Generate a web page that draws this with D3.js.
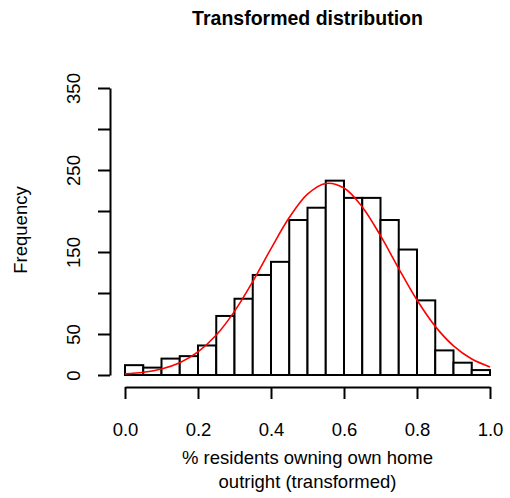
<!DOCTYPE html>
<html>
<head>
<meta charset="utf-8">
<script src="https://cdn.jsdelivr.net/npm/d3@7"></script>
<style>
  body { margin: 0; background: #fff; }
  text { font-family: "Liberation Sans", Arial, Helvetica, sans-serif; fill: #000; }
</style>
</head>
<body>
<svg id="chart" width="510" height="498"></svg>
<script>
// Histogram bins (bin start values, width 0.05) and counts
const binStarts = [0.00,0.05,0.10,0.15,0.20,0.25,0.30,0.35,0.40,0.45,0.50,0.55,0.60,0.65,0.70,0.75,0.80,0.85,0.90,0.95];
const binWidth = 0.05;
const counts = [12,9,20,23,36,72,93,122,138,189,204,237,216,216,189,153,91,30,15,6];
// Fitted normal curve, read at 0.05 steps
const curveX = [0.00,0.05,0.10,0.15,0.20,0.25,0.30,0.35,0.40,0.45,0.50,0.55,0.60,0.65,0.70,0.75,0.80,0.85,0.90,0.95,1.00];
const curveY = [1.4,3.4,7.4,15.0,28.2,48.7,77.6,113.9,154.1,192.0,220.6,233.6,228.0,205.0,169.9,129.8,91.4,59.3,35.5,19.5,9.9];
// Tick values
const xTicks = [0.0,0.2,0.4,0.6,0.8,1.0];
const yTicks = [0,50,100,150,200,250,300,350];
const yTickLabels = ["0","50","","150","","250","","350"];
const titleText = "Transformed distribution";
const xLabelLines = ["% residents owning own home","outright (transformed)"];
const yLabelText = "Frequency";

const svg = d3.select("#chart");
svg.append("rect").attr("width",510).attr("height",498).attr("fill","#fff");

const x = d3.scaleLinear().domain([0,1]).range([125,490]);
const y = d3.scaleLinear().domain([0,350]).range([375,88]);

// Bars
svg.append("g").selectAll("rect").data(binStarts).join("rect")
  .attr("x", d => x(d))
  .attr("y", (d,i) => y(counts[i]))
  .attr("width", d => x(d + binWidth) - x(d))
  .attr("height", (d,i) => y(0) - y(counts[i]))
  .attr("fill","#fff").attr("stroke","#000").attr("stroke-width",2);

// Curve
const line = d3.line().x((d,i)=>x(curveX[i])).y(d=>y(d)).curve(d3.curveCatmullRom);
svg.append("path").datum(curveY).attr("d", line)
  .attr("fill","none").attr("stroke","#ff0000").attr("stroke-width",1.6);

// X axis
const xAxis = svg.append("g").attr("transform","translate(0,387)")
  .call(d3.axisBottom(x).tickValues(xTicks).tickFormat(d3.format(".1f")).tickSize(12).tickSizeOuter(0));
xAxis.select(".domain").attr("stroke-width",2);
xAxis.selectAll(".tick line").attr("stroke-width",2);
xAxis.selectAll(".tick text").attr("y",48.5).attr("dy",null)
  .style("font-size","18.5px");

// Y axis
const yAxis = svg.append("g").attr("transform","translate(110,0)")
  .call(d3.axisLeft(y).tickValues(yTicks).tickFormat((d,i)=>yTickLabels[i]).tickSize(12).tickSizeOuter(0));
yAxis.select(".domain").attr("stroke-width",2);
yAxis.selectAll(".tick line").attr("stroke-width",2);
yAxis.selectAll(".tick text")
  .attr("transform","rotate(-90)")
  .attr("x",0).attr("y",-30).attr("dy",null)
  .attr("text-anchor","middle")
  .style("font-size","18.5px");
svg.selectAll(".tick text").attr("font-family",null);

// Title
svg.append("text").attr("x",307.5).attr("y",25).attr("text-anchor","middle")
  .style("font-size","19.5px").style("font-weight","bold").text(titleText);

// X label
svg.append("g").selectAll("text").data(xLabelLines).join("text")
  .attr("x",307.5).attr("y",(d,i)=>464+i*23.5).attr("text-anchor","middle")
  .style("font-size","18.5px").text(d=>d);

// Y label
svg.append("text").attr("transform","translate(27,230) rotate(-90)")
  .attr("text-anchor","middle").style("font-size","18.5px").text(yLabelText);
</script>
</body>
</html>
